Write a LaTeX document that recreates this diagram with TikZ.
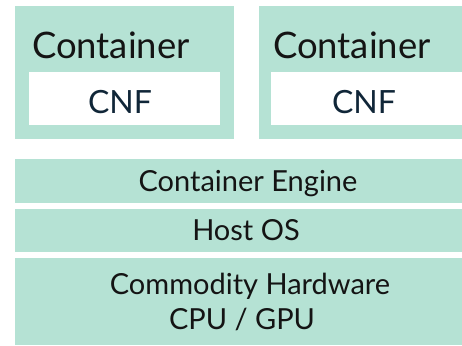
\documentclass[tikz,border=0pt]{standalone}
\usepackage{fontspec}
\setmainfont{Lato}
\definecolor{mint}{RGB}{181,226,212}
\definecolor{cnfblue}{RGB}{16,38,56}
\begin{document}
\begin{tikzpicture}
  [x=1pt,y=-1pt,
   every node/.style={inner sep=0pt,outer sep=0pt},
   box/.style={fill=mint,anchor=north west},
   slot/.style={fill=white,anchor=north west},
   big/.style={font=\fontsize{36.5}{42}\selectfont,text=black!92,anchor=base west},
   cnf/.style={font=\fontsize{32}{37}\selectfont,text=cnfblue,anchor=base},
   layer/.style={font=\fontsize{29}{35}\selectfont,text=black!92,anchor=base}]
  \useasboundingbox (0,0) rectangle (462,345);

  % the two containers
  \node[box,minimum width=219pt,minimum height=133pt] (ca) at (15,6) {};
  \node[box,minimum width=203pt,minimum height=133pt] (cb) at (259,6) {};
  \node[slot,minimum width=191pt,minimum height=53pt] (sa) at (29,72) {};
  \node[slot,minimum width=191pt,minimum height=53pt] (sb) at (271,72) {};
  \node[big] (ta) at (32,58) {Container};
  \node[big] (tb) at (273,58) {Container};
  \node[cnf] (na) at (120,113) {CNF};
  \node[cnf] (nb) at (364,113) {CNF};

  % the stack below
  \node[box,minimum width=447pt,minimum height=44pt] (eng) at (15,159) {};
  \node[box,minimum width=447pt,minimum height=43pt] (os) at (15,209) {};
  \node[box,minimum width=447pt,minimum height=87pt] (hw) at (15,258) {};
  \node[layer] (teng) at (248,191) {Container Engine};
  \node[layer] (tos) at (246,240) {Host OS};
  \node[layer] (thw) at (250,294) {Commodity Hardware};
  \node[layer] (tcpu) at (242,329) {CPU / GPU};
\end{tikzpicture}
\end{document}
